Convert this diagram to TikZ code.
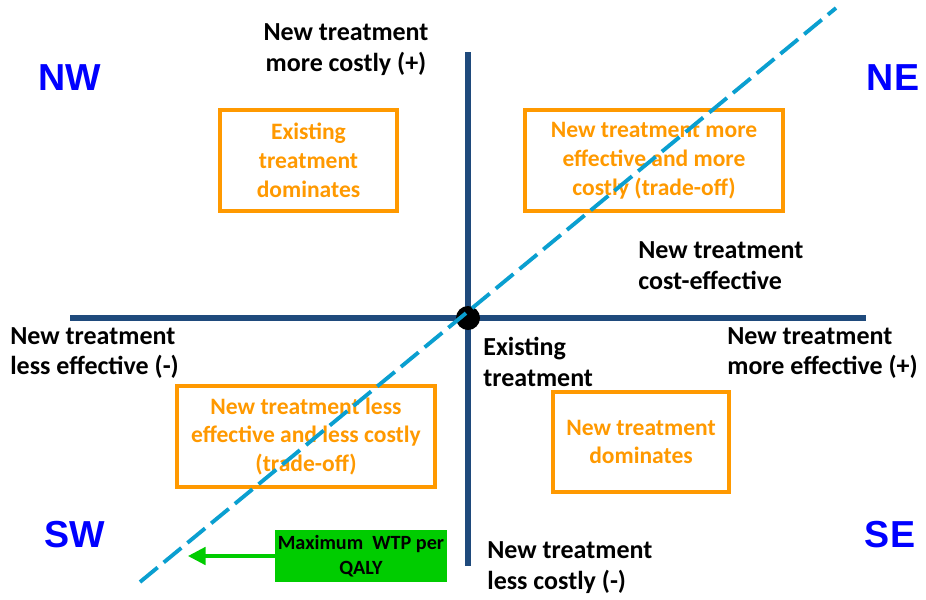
\documentclass[tikz,border=0pt]{standalone}
\usepackage{fontspec}
\setmainfont{Carlito}
\newfontfamily\arialfont{Liberation Sans}
\usetikzlibrary{arrows.meta}

\definecolor{axisblue}{HTML}{1F4A7C}
\definecolor{dashblue}{HTML}{0A9FD0}
\definecolor{boxorange}{HTML}{FF9900}
\definecolor{wtpgreen}{HTML}{00CC00}

\begin{document}
\begin{tikzpicture}[
    x=0.02cm, y=-0.02cm,
    axis/.style={draw=axisblue, line width=3.1pt},
    quad/.style={draw=boxorange, line width=2.1pt, text=boxorange, align=center,
        font=\bfseries\fontsize{13.4}{16.4}\selectfont, minimum height=2.02cm},
    lbl/.style={inner sep=0pt, align=left, anchor=west,
        font=\bfseries\fontsize{14.8}{17.6}\selectfont},
    corner/.style={text=blue, font=\arialfont\bfseries\fontsize{21.4}{24}\selectfont},
    wtp/.style={->, >={Triangle[length=10pt, width=10pt]}, draw=wtpgreen, line width=1.8pt}
]
    \useasboundingbox (0,0) rectangle (926,599);

    % Axes
    \coordinate (ytop) at (468,52);
    \coordinate (ybot) at (468,566);
    \coordinate (xleft) at (70,318);
    \coordinate (xright) at (866,318);
    \draw[axis] (ytop) -- (ybot);
    \draw[axis] (xleft) -- (xright);
    \node[circle, fill=black, inner sep=0pt, minimum width=0.44cm, minimum height=0.48cm] (origin) at (468,318) {};

    % Quadrant names
    \node[corner] (nw) at (70,78) {NW};
    \node[corner] (ne) at (893,78) {NE};
    \node[corner] (sw) at (75,535) {SW};
    \node[corner] (se) at (890,535) {SE};

    % Axis labels
    \node[lbl, align=center, anchor=center] (costly) at (346,50) {New treatment\\more costly (+)};
    \node[lbl] (lesseff) at (10,353) {New treatment\\less effective (-)};
    \node[lbl] (moreeff) at (727,353) {New treatment\\more effective (+)};
    \node[lbl] (cheap) at (487,568) {New treatment\\less costly (-)};
    \node[lbl] (existing) at (483,362) {Existing\\treatment};
    \node[lbl] (costeff) at (638,266) {New treatment\\cost-effective};

    % Quadrant boxes
    \node[quad, minimum width=3.54cm] (nwbox) at (308.5,160.5) {Existing\\treatment\\dominates};
    \node[quad, minimum width=5.16cm] (nebox) at (654,160.5) {New treatment more\\effective and more\\costly (trade-off)};
    \node[quad, minimum width=5.16cm] (swbox) at (306,436.5) {New treatment less\\effective and less costly\\(trade-off)};
    \node[quad, minimum width=3.52cm, minimum height=2cm] (sebox) at (641,442) {New treatment\\dominates};

    % Willingness to pay
    \node[fill=wtpgreen, minimum width=3.44cm, minimum height=1.04cm, inner sep=0pt, align=center,
        font=\bfseries\fontsize{11.5}{14}\selectfont] (wtpbox) at (361,556) {Maximum~ WTP per\\QALY};
    \coordinate (wtpend) at (188,556);
    \draw[wtp] (wtpbox.west) -- (wtpend);

    % Threshold line
    \coordinate (th1) at (140,582);
    \coordinate (th2) at (836,8);
    \draw[dashblue, line width=2.2pt, dash pattern=on 13pt off 4.5pt] (th1) -- (th2);
\end{tikzpicture}
\end{document}
